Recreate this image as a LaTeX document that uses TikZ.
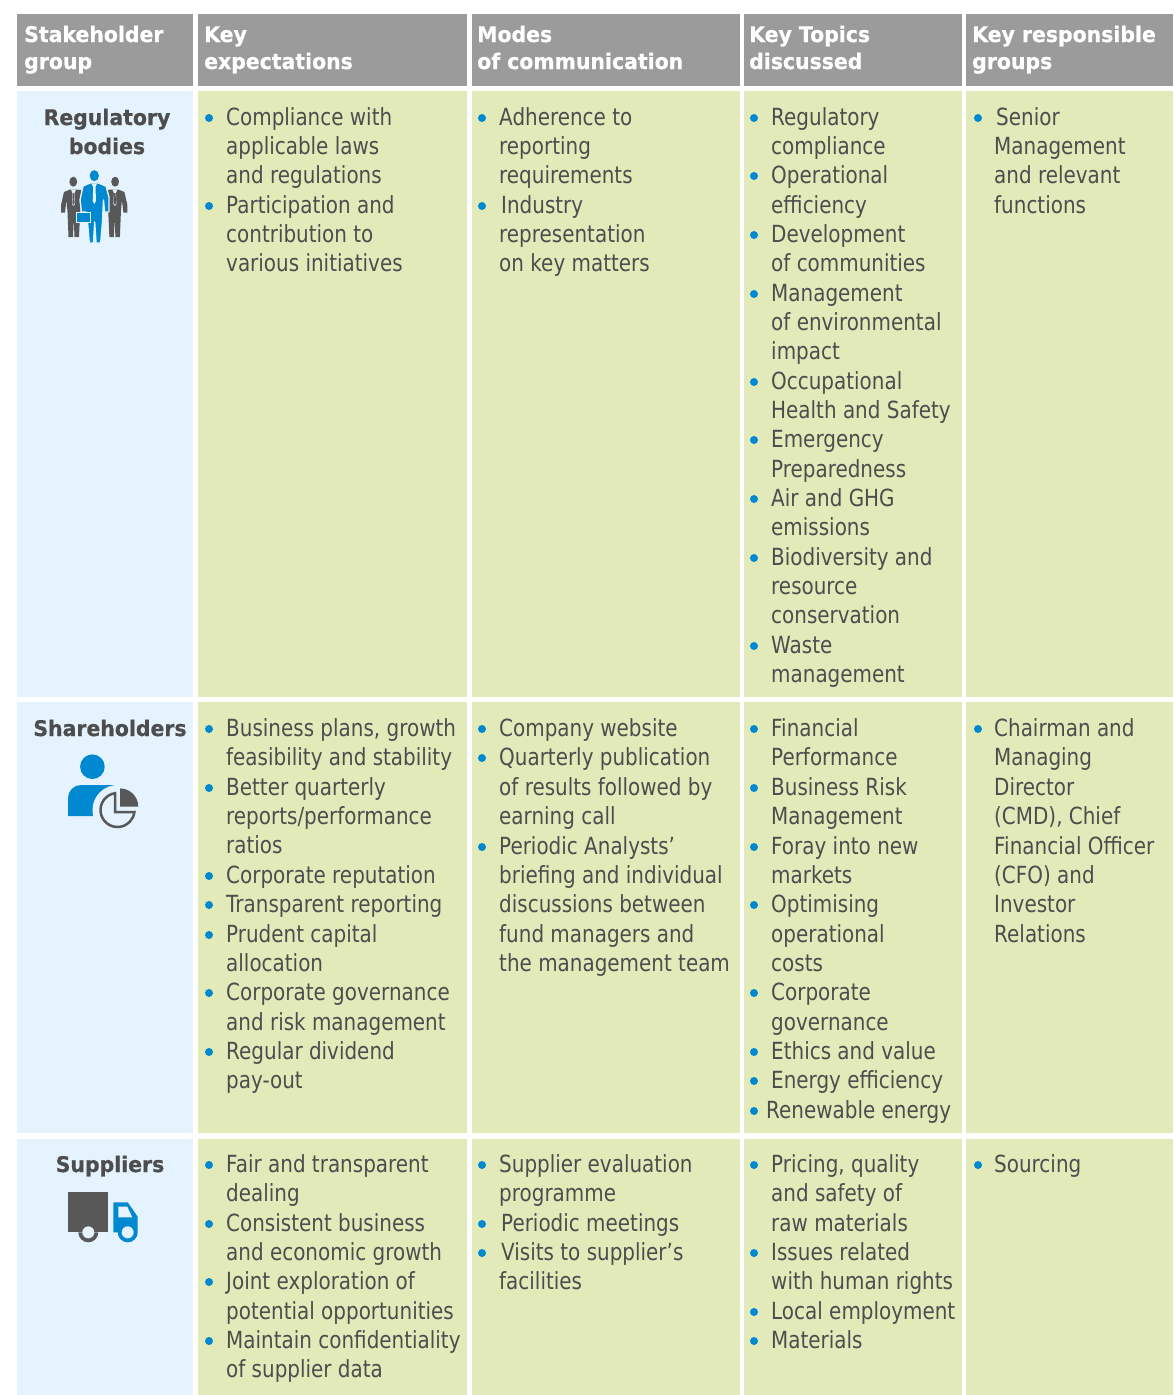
\documentclass[tikz,border=0pt]{standalone}
\usepackage{fontspec}
\setmainfont{DejaVu Sans}[FakeStretch=0.845]
\newfontfamily\hdfont{DejaVu Sans}[FakeStretch=0.95,BoldFeatures={FakeBold=0.6}]
\definecolor{hdgray}{HTML}{9B9B9B}
\definecolor{leaf}{HTML}{E2EABA}
\definecolor{sky}{HTML}{E4F3FE}
\definecolor{ink}{HTML}{4D4D4D}
\definecolor{blu}{HTML}{0089D0}
\definecolor{dgr}{HTML}{585858}
\newcounter{tn}
\tikzset{
  x=1pt,y=-1pt,
  hdcell/.style={fill=hdgray},
  bluecell/.style={fill=sky},
  greencell/.style={fill=leaf},
  hdtext/.style={anchor=base west,inner sep=0pt,text=white,font=\hdfont\bfseries\fontsize{21.5}{24}\selectfont},
  grouptext/.style={anchor=base,inner sep=0pt,text=ink,font=\hdfont\bfseries\fontsize{21.5}{24}\selectfont},
  bodytext/.style={anchor=base west,inner sep=0pt,text=ink,font=\fontsize{23.6}{28}\selectfont},
  bulletdot/.style={circle,fill=blu,inner sep=0pt,minimum size=8pt},
}
\newcommand{\tl}[3]{\stepcounter{tn}\node[bodytext] (t\thetn) at (#1,#2+8.5) {#3};}
\newcommand{\bl}[2]{\stepcounter{tn}\node[bulletdot] (t\thetn) at (#1,#2+1) {};}
\newcommand{\btl}[4]{\bl{#1}{#3}\tl{#2}{#3}{#4}}
\begin{document}
\begin{tikzpicture}
\useasboundingbox (0,0) rectangle (1173,1395);
\fill[white] (0,0) rectangle (1173,1395);
% header
\fill[hdcell] (17,14) rectangle (193,86);
\fill[hdcell] (198,14) rectangle (467,86);
\fill[hdcell] (472,14) rectangle (740,86);
\fill[hdcell] (744,14) rectangle (962,86);
\fill[hdcell] (966,14) rectangle (1173,86);
% rows
\foreach \a/\b in {91/697,702/1133,1139/1395}{
  \fill[bluecell] (17,\a) rectangle (193,\b);
  \fill[greencell] (198,\a) rectangle (467,\b);
  \fill[greencell] (472,\a) rectangle (740,\b);
  \fill[greencell] (744,\a) rectangle (962,\b);
  \fill[greencell] (966,\a) rectangle (1173,\b);
}
% header text
\node[hdtext] (h1a) at (24,42) {Stakeholder};
\node[hdtext] (h1b) at (24,69) {group};
\node[hdtext] (h2a) at (204,42) {Key};
\node[hdtext] (h2b) at (204,69) {expectations};
\node[hdtext] (h3a) at (477,42) {Modes};
\node[hdtext] (h3b) at (477,69) {of communication};
\node[hdtext] (h4a) at (749,42) {Key Topics};
\node[hdtext] (h4b) at (749,69) {discussed};
\node[hdtext] (h5a) at (972,42) {Key responsible};
\node[hdtext] (h5b) at (972,69) {groups};
% group names
\node[grouptext] (g1a) at (107,125) {Regulatory};
\node[grouptext] (g1b) at (107,154) {bodies};
\node[grouptext] (g2) at (110,736) {Shareholders};
\node[grouptext] (g3) at (110,1172) {Suppliers};
% column 2
\btl{209}{226}{117}{Compliance with}
\tl{226}{146}{applicable laws}
\tl{226}{175}{and regulations}
\btl{209}{226}{205}{Participation and}
\tl{226}{234}{contribution to}
\tl{226}{263}{various initiatives}
\btl{209}{226}{728}{Business plans, growth}
\tl{226}{757}{feasibility and stability}
\btl{209}{226}{787}{Better quarterly}
\tl{226}{816}{reports/performance}
\tl{226}{845}{ratios}
\btl{209}{226}{875}{Corporate reputation}
\btl{209}{226}{904}{Transparent reporting}
\btl{209}{226}{934}{Prudent capital}
\tl{226}{963}{allocation}
\btl{209}{226}{992}{Corporate governance}
\tl{226}{1022}{and risk management}
\btl{209}{226}{1051}{Regular dividend}
\tl{226}{1080}{pay-out}
\btl{209}{226}{1164}{Fair and transparent}
\tl{226}{1193}{dealing}
\btl{209}{226}{1223}{Consistent business}
\tl{226}{1252}{and economic growth}
\btl{209}{226}{1281}{Joint exploration of}
\tl{226}{1311}{potential opportunities}
\btl{209}{226}{1340}{Maintain confidentiality}
\tl{226}{1369}{of supplier data}
% column 3
\btl{482}{499}{117}{Adherence to}
\tl{499}{146}{reporting}
\tl{499}{175}{requirements}
\btl{482}{501}{205}{Industry}
\tl{499}{234}{representation}
\tl{499}{263}{on key matters}
\btl{482}{499}{728}{Company website}
\btl{482}{499}{757}{Quarterly publication}
\tl{499}{787}{of results followed by}
\tl{499}{816}{earning call}
\btl{482}{499}{846}{Periodic Analysts’}
\tl{499}{875}{briefing and individual}
\tl{499}{904}{discussions between}
\tl{499}{934}{fund managers and}
\tl{499}{963}{the management team}
\btl{482}{499}{1164}{Supplier evaluation}
\tl{499}{1193}{programme}
\btl{482}{501}{1223}{Periodic meetings}
\btl{482}{501}{1252}{Visits to supplier’s}
\tl{499}{1281}{facilities}
% column 4
\btl{754}{771}{117}{Regulatory}
\tl{771}{146}{compliance}
\btl{754}{771}{175}{Operational}
\tl{771}{205}{efficiency}
\btl{754}{771}{234}{Development}
\tl{771}{263}{of communities}
\btl{754}{771}{293}{Management}
\tl{771}{322}{of environmental}
\tl{771}{351}{impact}
\btl{754}{771}{381}{Occupational}
\tl{771}{410}{Health and Safety}
\btl{754}{771}{439}{Emergency}
\tl{771}{469}{Preparedness}
\btl{754}{771}{498}{Air and GHG}
\tl{771}{527}{emissions}
\btl{754}{771}{557}{Biodiversity and}
\tl{771}{586}{resource}
\tl{771}{615}{conservation}
\btl{754}{771}{645}{Waste}
\tl{771}{674}{management}
\btl{754}{771}{728}{Financial}
\tl{771}{757}{Performance}
\btl{754}{771}{787}{Business Risk}
\tl{771}{816}{Management}
\btl{754}{771}{846}{Foray into new}
\tl{771}{875}{markets}
\btl{754}{771}{904}{Optimising}
\tl{771}{934}{operational}
\tl{771}{963}{costs}
\btl{754}{771}{992}{Corporate}
\tl{771}{1022}{governance}
\btl{754}{771}{1051}{Ethics and value}
\btl{754}{771}{1080}{Energy efficiency}
\btl{754}{766}{1110}{Renewable energy}
\btl{754}{771}{1164}{Pricing, quality}
\tl{771}{1193}{and safety of}
\tl{771}{1223}{raw materials}
\btl{754}{771}{1252}{Issues related}
\tl{771}{1281}{with human rights}
\btl{754}{771}{1311}{Local employment}
\btl{754}{771}{1340}{Materials}
% column 5
\btl{978}{996}{117}{Senior}
\tl{994}{146}{Management}
\tl{994}{175}{and relevant}
\tl{994}{205}{functions}
\btl{978}{994}{728}{Chairman and}
\tl{994}{757}{Managing}
\tl{994}{787}{Director}
\tl{994}{816}{(CMD), Chief}
\tl{994}{846}{Financial Officer}
\tl{994}{875}{(CFO) and}
\tl{994}{904}{Investor}
\tl{994}{934}{Relations}
\btl{978}{994}{1164}{Sourcing}
% icon: people
\foreach \sc/\sh in {1/0,-1/188.4}{
  \begin{scope}[shift={(\sh,0)},xscale=\sc]
  \fill[dgr] (73.3,181.7) circle (3.9 and 5);
  \fill[dgr] (70,189.5) -- (64,192) -- (61,205) -- (61,212.5) -- (65,212.5) -- (66.5,200) -- (67.5,212) -- (68.5,237) -- (73,237) -- (73.7,218) -- (74.5,237) -- (79,237) -- (80,215) -- (82,190) -- (77,189.5) -- cycle;
  \fill[sky] (71,189.5) -- (76,189.5) -- (74.5,193) -- (75,204) -- (73.5,206) -- (72,204) -- (72.5,193) -- cycle;
  \fill[dgr] (72.8,193) -- (74.2,193) -- (74.6,203) -- (73.5,205) -- (72.4,203) -- cycle;
  \end{scope}
}
\filldraw[fill=blu,draw=sky,line width=1.4pt,line join=round] (90,183) -- (98.5,183) -- (106,186) -- (109,197) -- (109,212) -- (104.5,212) -- (103.5,200) -- (102.5,222) -- (100.7,243) -- (96,243) -- (94.7,222) -- (93.5,243) -- (89.3,243) -- (87.5,222) -- (86,212) -- (81.5,212) -- (80,200) -- (83,186) -- cycle;
\fill[blu] (94.3,175.7) circle (4.6 and 5.5);
\fill[sky] (91.5,183.5) -- (97,183.5) -- (95.5,187) -- (96,201) -- (94.3,204) -- (92.7,201) -- (93.2,187) -- cycle;
\filldraw[fill=blu,draw=sky,line width=1pt] (76,212.3) rectangle (90.7,222.7);
% icon: shareholder
\fill[blu] (92.4,766.7) circle (12.3);
\fill[blu] (68,816) -- (68,798) arc[start angle=180,end angle=270,radius=13] -- (114,785) -- (114,816) -- cycle;
\fill[sky] (117.5,810) circle (25);
\draw[dgr,line width=2.5pt,line join=miter] (115,793.2) arc[start angle=261.5,end angle=6.8,radius=17] -- (115,812) -- cycle;
\fill[dgr] (120,788.4) arc[start angle=270,end angle=360,radius=18.3] -- (120,806.7) -- cycle;
% icon: truck
\fill[dgr] (68.3,1192.3) rectangle (108.3,1232.3);
\fill[dgr] (78.3,1232.3) arc[start angle=180,end angle=0,radius=10] -- cycle;
\fill[sky] (88.3,1232.3) circle (6);
\fill[blu] (113.3,1202.3) -- (127.7,1202.3) -- (137.7,1216.7) -- (137.7,1232.3) arc[start angle=0,end angle=180,radius=10] -- (113.3,1232.3) -- cycle;
\fill[sky] (118.3,1206.7) -- (127.3,1206.7) -- (132.3,1217.3) -- (118.3,1217.3) -- cycle;
\fill[sky] (127.7,1232.3) circle (6);
\end{tikzpicture}
\end{document}
